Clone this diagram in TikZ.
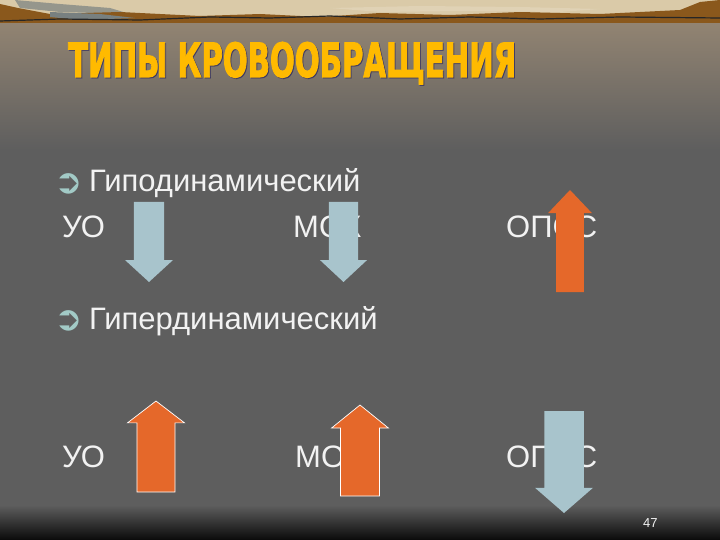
\documentclass[tikz,border=0pt]{standalone}
\usepackage{fontspec}
\setmainfont{Liberation Sans}
\newfontfamily\symbfont{DejaVu Sans}
\newfontfamily\headfont{DejaVu Sans}[BoldFeatures={FakeBold=2.5}]
\usetikzlibrary{shapes.arrows, positioning}

\definecolor{slidegray}{RGB}{94,94,94}
\definecolor{slidetop}{RGB}{146,132,114}
\definecolor{slidebottom}{RGB}{10,10,10}
\definecolor{sandbeige}{RGB}{218,202,168}
\definecolor{hillbrown}{RGB}{138,88,28}
\definecolor{cloudgray}{RGB}{120,128,128}
\definecolor{titleyellow}{RGB}{255,186,0}
\definecolor{textwhite}{RGB}{242,242,242}
\definecolor{bulletteal}{RGB}{162,202,198}
\definecolor{arrowblue}{RGB}{168,196,204}
\definecolor{arroworange}{RGB}{229,104,42}

\tikzset{
    heading/.style={
        anchor=base west,
        inner sep=0pt,
        text=titleyellow
    },
    bullet/.style={
        inner sep=0pt,
        text=bulletteal,
        font=\symbfont\fontsize{34}{34}\selectfont
    },
    item/.style={
        anchor=base west,
        inner sep=0pt,
        text=textwhite,
        font=\fontsize{31}{36}\selectfont
    },
    pagenum/.style={
        anchor=base west,
        inner sep=0pt,
        text=textwhite,
        font=\fontsize{13}{15}\selectfont
    },
    blockarrow/.style={
        single arrow,
        anchor=tail,
        outer sep=0pt
    },
    rise/.style={
        blockarrow,
        shape border rotate=90,
        fill=arroworange
    },
    fall/.style={
        blockarrow,
        shape border rotate=270,
        fill=arrowblue
    },
    rim/.style={
        draw=white,
        line width=0.7pt
    }
}

\begin{document}
\begin{tikzpicture}[x=1pt, y=-1pt]

    % Background
    \useasboundingbox (0,0) rectangle (720,540);
    \fill[slidegray] (0,0) rectangle (720,540);
    \shade[top color=slidetop, bottom color=slidegray] (0,22) rectangle (720,150);
    \shade[top color=slidegray, bottom color=slidebottom] (0,505) rectangle (720,540);

    % Landscape strip
    \fill[sandbeige] (0,0) rectangle (720,23);
    \fill[cloudgray!70!sandbeige] (15,0) -- (60,4) -- (110,8) -- (130,14) -- (60,12) -- (20,8) -- cycle;
    \fill[hillbrown] (0,4) -- (18,8) -- (50,14) -- (120,12) -- (200,16) -- (260,14)
        -- (320,17) -- (380,13) -- (450,15) -- (520,12) -- (600,14) -- (680,10)
        -- (700,2) -- (720,0) -- (720,23) -- (0,23) -- cycle;
    \fill[cloudgray] (50,12) -- (100,14) -- (135,18) -- (80,20) -- (50,17) -- cycle;
    \draw[black!85, line width=1.2pt] (0,21) -- (60,19) -- (140,20) -- (210,17)
        -- (270,18) -- (330,16) -- (400,19) -- (470,17) -- (540,19) -- (620,17) -- (720,18);
    \fill[sandbeige!85!white] (330,8) -- (420,6) -- (520,7) -- (600,9) -- (560,12)
        -- (460,11) -- (380,12) -- cycle;

    % Title
    \node[heading, text=blue!35!black, opacity=0.35] (titleshadow) at (69,78)
        {\resizebox{448pt}{35pt}{\headfont\bfseries ТИПЫ КРОВООБРАЩЕНИЯ}};
    \node[heading] (title) at (68,77)
        {\resizebox{448pt}{35pt}{\headfont\bfseries ТИПЫ КРОВООБРАЩЕНИЯ}};

    % Hypodynamic type
    \node[item] (hypo) at (89,192) {Гиподинамический};
    \node[bullet, left=6pt of hypo] (bul1) {➲};
    \node[item] (uo1) at (62,237) {УО};
    \node[item] (mok1) at (293,237) {МОК};
    \node[item] (opss1) at (506,237) {ОПСС};

    % Hyperdynamic type
    \node[item] (hyper) at (89,329) {Гипердинамический};
    \node[bullet, left=6pt of hyper] (bul2) {➲};
    \node[item] (uo2) at (62,467) {УО};
    \node[item] (mok2) at (295,467) {МОК};
    \node[item] (opss2) at (506,467) {ОПСС};

    % Arrows, row 1
    \node[fall, minimum height=80pt, minimum width=48pt, inner sep=12pt,
        single arrow tip angle=95] (a1) at (149,202) {};
    \node[fall, minimum height=80pt, minimum width=47pt, inner sep=11.5pt,
        single arrow tip angle=94] (a2) at (343.5,202) {};
    \node[rise, minimum height=102pt, minimum width=44pt, inner sep=12pt,
        single arrow tip angle=87] (a3) at (570,292) {};

    % Arrows, row 2
    \node[rise, rim, minimum height=91pt, minimum width=57pt, inner sep=14pt,
        single arrow tip angle=105] (a4) at (156,492) {};
    \node[rise, rim, minimum height=91pt, minimum width=57pt, inner sep=15pt,
        single arrow tip angle=102] (a5) at (360,496) {};
    \node[fall, minimum height=102pt, minimum width=58pt, inner sep=15pt,
        single arrow tip angle=98] (a6) at (564,411) {};

    % Page number
    \node[pagenum] (page) at (643,527) {47};

\end{tikzpicture}
\end{document}
